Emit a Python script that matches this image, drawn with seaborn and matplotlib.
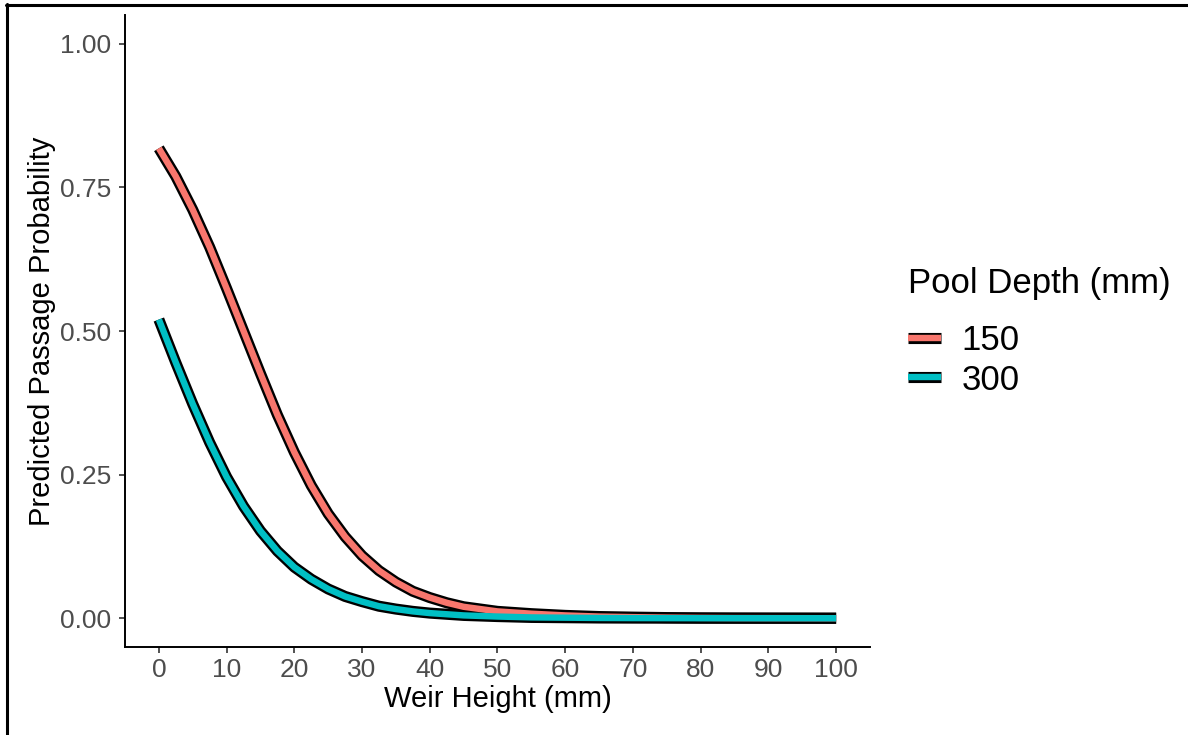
import numpy as np
import pandas as pd
import matplotlib
matplotlib.use("Agg")
import matplotlib.pyplot as plt
from matplotlib.lines import Line2D
from matplotlib.legend_handler import HandlerTuple
import seaborn as sns

# ---- data ----
weir_height = [0, 2.5, 5, 7.5, 10, 12.5, 15, 17.5, 20, 22.5, 25, 27.5, 30, 32.5, 35,
               37.5, 40, 42.5, 45, 47.5, 50, 55, 60, 65, 70, 75, 80, 85, 90, 95, 100]
prob_150 = [0.818, 0.769, 0.711, 0.646, 0.574, 0.500, 0.426, 0.354, 0.289, 0.231, 0.182,
            0.142, 0.109, 0.083, 0.063, 0.047, 0.036, 0.027, 0.020, 0.016, 0.012,
            0.008, 0.005, 0.003, 0.002, 0.0012, 0.0007, 0.0004, 0.0003, 0.0002, 0.0001]
prob_300 = [0.520, 0.445, 0.373, 0.306, 0.246, 0.195, 0.152, 0.117, 0.089, 0.068, 0.051,
            0.038, 0.029, 0.021, 0.016, 0.012, 0.009, 0.007, 0.005, 0.004, 0.003,
            0.0015, 0.001, 0.0005, 0.0003, 0.0002, 0.0001, 0.0001, 0.00005, 0.00005, 0.00003]
depth_levels = ["150", "300"]
x_ticks = [0, 10, 20, 30, 40, 50, 60, 70, 80, 90, 100]
y_ticks = [0.00, 0.25, 0.50, 0.75, 1.00]
y_ticklabels = ["0.00", "0.25", "0.50", "0.75", "1.00"]

df = pd.DataFrame({
    "weir": weir_height * 2,
    "prob": prob_150 + prob_300,
    "depth": [depth_levels[0]] * len(weir_height) + [depth_levels[1]] * len(weir_height),
})

colors = {"150": "#F8766D", "300": "#00BFC4"}
outline = {"150": "black", "300": "black"}

sns.set_style("white")
plt.rcParams["font.family"] = ["Liberation Sans", "DejaVu Sans"]

fig = plt.figure(figsize=(11.88, 7.35), dpi=100)
ax = fig.add_axes([125 / 1188, 1 - 647 / 735, (870 - 125) / 1188, (647 - 15) / 735])

BLACK_LW = 8.0
COL_LW = 4.6

sns.lineplot(data=df, x="weir", y="prob", hue="depth", palette=outline,
             hue_order=depth_levels, estimator=None, linewidth=BLACK_LW,
             legend=False, ax=ax, solid_capstyle="butt")
sns.lineplot(data=df, x="weir", y="prob", hue="depth", palette=colors,
             hue_order=depth_levels, estimator=None, linewidth=COL_LW,
             legend=False, ax=ax, solid_capstyle="butt")

ax.set_xlim(-5, 105)
ax.set_ylim(-0.05, 1.05)
ax.set_xticks(x_ticks)
ax.set_xticklabels([str(t) for t in x_ticks])
ax.set_yticks(y_ticks)
ax.set_yticklabels(y_ticklabels)

for s in ["top", "right"]:
    ax.spines[s].set_visible(False)
for s in ["left", "bottom"]:
    ax.spines[s].set_color("black")
    ax.spines[s].set_linewidth(1.4)

ax.tick_params(axis="both", which="major", length=4, width=1.2, color="#333333",
               labelcolor="#4D4D4D", labelsize=19, bottom=True, left=True)
ax.tick_params(axis="x", pad=4)
ax.tick_params(axis="y", pad=6)

ax.set_xlabel("Weir Height (mm)", fontsize=21, color="black", labelpad=2)
ax.set_ylabel("Predicted Passage Probability", fontsize=21, color="black", labelpad=3)

# legend
handles = []
for d in depth_levels:
    h_black = Line2D([], [], color="black", linewidth=BLACK_LW, solid_capstyle="butt")
    h_col = Line2D([], [], color=colors[d], linewidth=COL_LW, solid_capstyle="butt")
    handles.append((h_black, h_col))
leg = ax.legend(handles, depth_levels, title="Pool Depth (mm)",
                handler_map={tuple: HandlerTuple(ndivide=1, pad=0)},
                loc="upper left", bbox_to_anchor=(908 / 1188, 1 - 267 / 735),
                bbox_transform=fig.transFigure, frameon=False,
                fontsize=25, title_fontsize=25, handlelength=0.95,
                handletextpad=0.6, labelspacing=0.18, borderpad=0,
                borderaxespad=0, alignment="left")
leg.get_title().set_color("black")
for t in leg.get_texts():
    t.set_color("black")
leg._legend_box.sep = 17.5  # gap between title and entries (points)

# outer frame (top and left edges)
fig.add_artist(Line2D([6 / 1188, 1.0], [1 - 5 / 735, 1 - 5 / 735],
                      transform=fig.transFigure, color="black", linewidth=2.2))
fig.add_artist(Line2D([7 / 1188, 7 / 1188], [0.0, 1 - 4 / 735],
                      transform=fig.transFigure, color="black", linewidth=2.2))

fig.savefig("out.png", dpi=100, facecolor="white")
